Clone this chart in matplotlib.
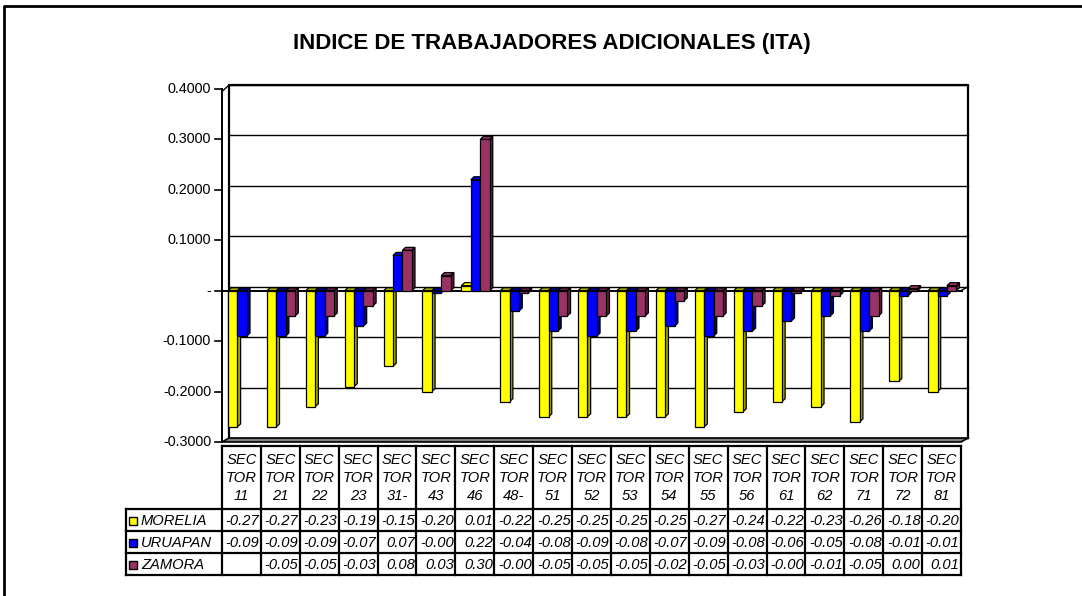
import numpy as np
import matplotlib
matplotlib.use("Agg")
import matplotlib.pyplot as plt
from matplotlib.patches import Polygon, Rectangle

plt.rcParams["font.family"] = ["Liberation Sans", "DejaVu Sans"]

# data
sectors = ["11", "21", "22", "23", "31-", "43", "46", "48-", "51", "52",
           "53", "54", "55", "56", "61", "62", "71", "72", "81"]
series_names = ["MORELIA", "URUAPAN", "ZAMORA"]
morelia = [-0.27, -0.27, -0.23, -0.19, -0.15, -0.20, 0.01, -0.22, -0.25, -0.25,
           -0.25, -0.25, -0.27, -0.24, -0.22, -0.23, -0.26, -0.18, -0.20]
uruapan = [-0.09, -0.09, -0.09, -0.07, 0.07, -0.004, 0.22, -0.04, -0.08, -0.09,
           -0.08, -0.07, -0.09, -0.08, -0.06, -0.05, -0.08, -0.01, -0.01]
zamora = [np.nan, -0.05, -0.05, -0.03, 0.08, 0.03, 0.30, -0.004, -0.05, -0.05,
          -0.05, -0.02, -0.05, -0.03, -0.004, -0.01, -0.05, 0.004, 0.01]
yticks = [0.4, 0.3, 0.2, 0.1, 0.0, -0.1, -0.2, -0.3]

front_colors = ["#FFFF00", "#0000FF", "#993366"]
side_colors = ["#A8A800", "#00008C", "#5C1F3D"]

W, H = 1082, 596
fig = plt.figure(figsize=(W / 100, H / 100), dpi=100)

# pixel overlay for frame, title and table
pix = fig.add_axes([0, 0, 1, 1])
pix.set_xlim(0, W)
pix.set_ylim(H, 0)
pix.axis("off")

pix.plot([4, 4, W + 5], [H + 5, 6, 6], color="black", lw=2)
pix.text(552, 44, "INDICE DE TRABAJADORES ADICIONALES (ITA)", ha="center",
         va="center", fontsize=16, fontweight="bold")

# chart axes: front plane x 222..961, y -0.3 at 442, 0.4 at 89
x0, x1, ytop, ybot = 222, 961, 89, 442
ax = fig.add_axes([x0 / W, 1 - ybot / H, (x1 - x0) / W, (ybot - ytop) / H])
ax.set_xlim(0, len(sectors))
ax.set_ylim(-0.3, 0.4)
ax.axis("off")
ax.patch.set_alpha(0)

px_x = (x1 - x0) / len(sectors)
px_y = (ybot - ytop) / 0.7
dx = 7 / px_x
dy = 4 / px_y

# back wall gridlines and frame
for v in yticks:
    if v == 0:
        continue
    ax.plot([dx, len(sectors) + dx], [v + dy, v + dy], color="black", lw=1.0,
            clip_on=False, zorder=1)
ax.plot([dx, dx, len(sectors) + dx, len(sectors) + dx],
        [-0.3 + dy, 0.4 + dy, 0.4 + dy, -0.3 + dy],
        color="black", lw=1.6, clip_on=False, zorder=1)
# left wall edge
ax.plot([0, dx], [0.4 - 0.005, 0.4 + dy], color="black", lw=1.0, clip_on=False)

# floor
floor = Polygon([(0, -0.3), (len(sectors), -0.3), (len(sectors) + dx, -0.3 + dy),
                 (dx, -0.3 + dy)], closed=True, facecolor="#808080",
                edgecolor="black", lw=1.2, clip_on=False, zorder=2)
ax.add_patch(floor)

# zero plane line
ax.plot([0, len(sectors) + dx * 0.2], [0, 0], color="black", lw=1.4,
        clip_on=False, zorder=2)
ax.plot([dx, len(sectors) + dx], [dy, dy], color="black", lw=1.0,
        clip_on=False, zorder=2)
ax.plot([len(sectors), len(sectors) + dx], [0, dy], color="black", lw=1.0,
        clip_on=False, zorder=2)

# y axis with ticks and labels
ax.plot([0, 0], [-0.3, 0.4], color="black", lw=1.4, clip_on=False, zorder=6)
for v in yticks:
    ax.plot([-7 / px_x, 0], [v, v], color="black", lw=1.2, clip_on=False)
    label = "-" if v == 0 else "%.4f" % v
    ax.text(-11 / px_x, v, label, ha="right", va="center", fontsize=10.4)

# 3d-looking bars
bar_w = 9.4 / px_x
offsets = [6 / px_x, 6 / px_x + bar_w, 6 / px_x + 2 * bar_w]
bdx = 3.2 / px_x
bdy = 3.0 / px_y
z = 3
for i in range(len(sectors)):
    for s, vals in enumerate([morelia, uruapan, zamora]):
        v = vals[i]
        if np.isnan(v):
            continue
        left = i + offsets[s]
        right = left + bar_w
        top = max(v, 0)
        bot = min(v, 0)
        side = Polygon([(right, bot), (right + bdx, bot + bdy),
                        (right + bdx, top + bdy), (right, top)], closed=True,
                       facecolor=side_colors[s], edgecolor="black", lw=0.9,
                       zorder=z)
        topf = Polygon([(left, top), (left + bdx, top + bdy),
                        (right + bdx, top + bdy), (right, top)], closed=True,
                       facecolor=side_colors[s] if v < 0 else front_colors[s],
                       edgecolor="black", lw=0.9, zorder=z)
        front = Rectangle((left, bot), bar_w, top - bot,
                          facecolor=front_colors[s], edgecolor="black", lw=0.9,
                          zorder=z + 1)
        ax.add_patch(side)
        ax.add_patch(topf)
        ax.add_patch(front)
        z += 2

# data table
tcol0 = 222
tcolw = (961 - 222) / len(sectors)
row_y = [446, 509, 531, 553, 575]
lab_x0 = 126
lw_t = 1.6
fs_t = 10.6
for k in range(len(sectors) + 1):
    xx = tcol0 + k * tcolw
    pix.plot([xx, xx], [row_y[0], row_y[-1]], color="black", lw=lw_t)
pix.plot([tcol0, 961], [row_y[0], row_y[0]], color="black", lw=lw_t)
for yy in row_y[1:]:
    pix.plot([lab_x0, 961], [yy, yy], color="black", lw=lw_t)
pix.plot([lab_x0, lab_x0], [row_y[1], row_y[-1]], color="black", lw=lw_t)

for k, sec in enumerate(sectors):
    cx = tcol0 + (k + 0.5) * tcolw
    for j, txt in enumerate(["SEC", "TOR", sec]):
        pix.text(cx, 460 + j * 18, txt, ha="center", va="center",
                 fontsize=fs_t, style="italic")

for r, (name, vals) in enumerate(zip(series_names, [morelia, uruapan, zamora])):
    cy = (row_y[r + 1] + row_y[r + 2]) / 2 + 1
    pix.add_patch(Rectangle((129, cy - 4), 8, 8, facecolor=front_colors[r],
                            edgecolor="black", lw=1.0))
    pix.text(141, cy, name, ha="left", va="center", fontsize=fs_t,
             style="italic")
    for k, v in enumerate(vals):
        if np.isnan(v):
            continue
        txt = "%.2f" % v
        if txt == "0.00" and v < 0:
            txt = "-0.00"
        pix.text(tcol0 + (k + 1) * tcolw - 1.5, cy, txt, ha="right",
                 va="center", fontsize=fs_t, style="italic")

fig.savefig("out.png", dpi=100)
